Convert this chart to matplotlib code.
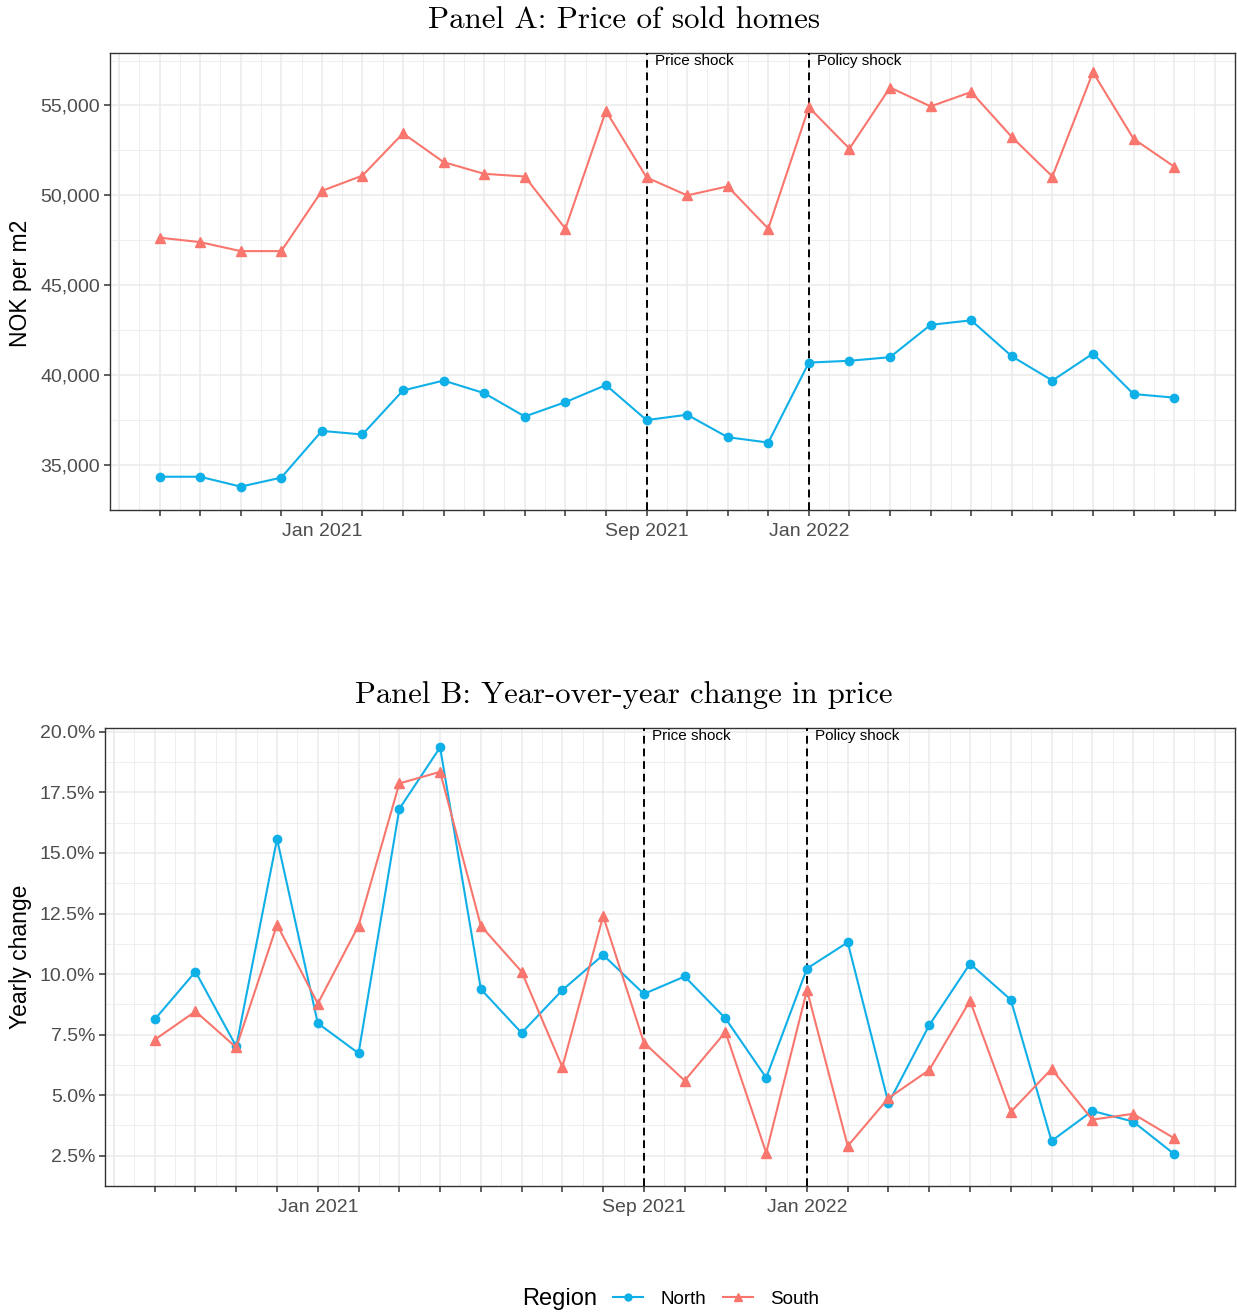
import numpy as np
import matplotlib
matplotlib.use("Agg")
import matplotlib.pyplot as plt
from matplotlib.lines import Line2D
from matplotlib.ticker import FuncFormatter

# months from Sep 2020 to Oct 2022
months = np.arange(26)
tick_pos = np.arange(27)
tick_labels = {4: "Jan 2021", 12: "Sep 2021", 16: "Jan 2022"}

price_north = [34350, 34350, 33800, 34300, 36900, 36700, 39150, 39700, 39000, 37700,
               38500, 39450, 37500, 37800, 36550, 36250, 40700, 40800, 41000, 42800,
               43050, 41050, 39700, 41200, 38950, 38750]
price_south = [47650, 47400, 46900, 46900, 50250, 51100, 53450, 51850, 51200, 51050,
               48150, 54700, 51000, 50000, 50500, 48150, 54900, 52600, 56000, 54950,
               55750, 53250, 51050, 56850, 53150, 51600]

yoy_north = [8.13, 10.10, 7.01, 15.58, 7.97, 6.73, 16.82, 19.36, 9.38, 7.57,
             9.34, 10.79, 9.18, 9.90, 8.17, 5.72, 10.23, 11.31, 4.67, 7.89,
             10.43, 8.94, 3.11, 4.35, 3.91, 2.58]
yoy_south = [7.29, 8.46, 6.97, 12.04, 8.78, 12.00, 17.87, 18.35, 11.99, 10.10,
             6.16, 12.40, 7.17, 5.60, 7.61, 2.62, 9.34, 2.90, 4.88, 6.04,
             8.90, 4.31, 6.08, 3.99, 4.23, 3.23]

shocks = [(12, "Price shock"), (16, "Policy shock")]

north_col = "#0FAFE8"
south_col = "#F8766D"
grey = "#4D4D4D"

W, H = 1237, 1313
fig = plt.figure(figsize=(W / 100, H / 100), dpi=100)


def setup(ax, ylim, yticks, yminor, fmt):
    ax.set_xlim(-1.22, 26.22)
    ax.set_ylim(*ylim)
    ax.set_xticks(tick_pos)
    ax.set_xticklabels([tick_labels.get(i, "") for i in tick_pos])
    ax.set_xticks(np.arange(-1, 26.6, 0.5), minor=True)
    ax.set_yticks(yticks)
    ax.set_yticks(yminor, minor=True)
    ax.yaxis.set_major_formatter(FuncFormatter(fmt))
    ax.grid(True, which="major", color="#EBEBEB", lw=1.1, zorder=0)
    ax.grid(True, which="minor", color="#EBEBEB", lw=0.55, zorder=0)
    ax.set_axisbelow(True)
    # extra major gridline at Aug 2020 (no tick)
    ax.axvline(-1, color="#EBEBEB", lw=1.1, zorder=0)
    for s in ax.spines.values():
        s.set_color("#333333")
        s.set_linewidth(1.0)
    ax.tick_params(which="major", length=4, width=1.1, color="#333333",
                   labelsize=14, labelcolor=grey, pad=3)
    ax.tick_params(axis="x", which="major", pad=5)
    ax.tick_params(which="minor", length=0)
    for x, lab in shocks:
        ax.axvline(x, color="black", lw=1.4, ls=(0, (4, 2.5)), zorder=3)
        ax.annotate(lab, xy=(x, 1), xycoords=("data", "axes fraction"),
                    xytext=(6, -1), textcoords="offset points",
                    ha="left", va="top", fontsize=11, color="black",
                    family="Liberation Sans")


plt.rcParams["font.family"] = "Liberation Sans"

# Panel A
axA = fig.add_axes([110 / W, 1 - 510 / H, 1125 / W, 457 / H])
setup(axA, (32740, 57920), np.arange(35000, 55001, 5000),
      np.arange(32500, 57501, 2500), lambda v, p: f"{v:,.0f}")
axA.plot(months, price_north, color=north_col, lw=1.5, marker="o", ms=6, zorder=4)
axA.plot(months, price_south, color=south_col, lw=1.5, marker="^", ms=7, zorder=4)

# Panel B
axB = fig.add_axes([105 / W, 1 - 1186 / H, 1130 / W, 458 / H])
setup(axB, (1.74, 20.16), np.arange(2.5, 20.01, 2.5),
      np.arange(1.25, 20.01, 1.25), lambda v, p: f"{v:.1f}%")
axB.plot(months, yoy_north, color=north_col, lw=1.5, marker="o", ms=6, zorder=4)
axB.plot(months, yoy_south, color=south_col, lw=1.5, marker="^", ms=7, zorder=4)

# titles
fig.text(624 / W, 1 - 20 / H, "Panel A: Price of sold homes", ha="center", va="center",
         family="cmr10", fontsize=22.3)
fig.text(624 / W, 1 - 695 / H, "Panel B: Year-over-year change in price", ha="center",
         va="center", family="cmr10", fontsize=22.1)

# axis labels
fig.text(21 / W, 1 - 283 / H, "NOK per m2", rotation=90, ha="center", va="center",
         fontsize=16.5)
fig.text(21 / W, 1 - 957 / H, "Yearly change", rotation=90, ha="center", va="center",
         fontsize=16.5)

# legend
fig.text(522 / W, 1 - 1299 / H, "Region", ha="left", va="center", fontsize=17)
handles = [Line2D([], [], color=north_col, lw=1.5, marker="o", ms=5),
           Line2D([], [], color=south_col, lw=1.5, marker="^", ms=6)]
fig.legend(handles, ["North", "South"], loc="center", ncol=2, frameon=False,
           bbox_to_anchor=(716 / W, 1 - 1299 / H), fontsize=13.5,
           handlelength=1.6, handletextpad=0.9, columnspacing=0.9)

fig.savefig("out.png", dpi=100)
